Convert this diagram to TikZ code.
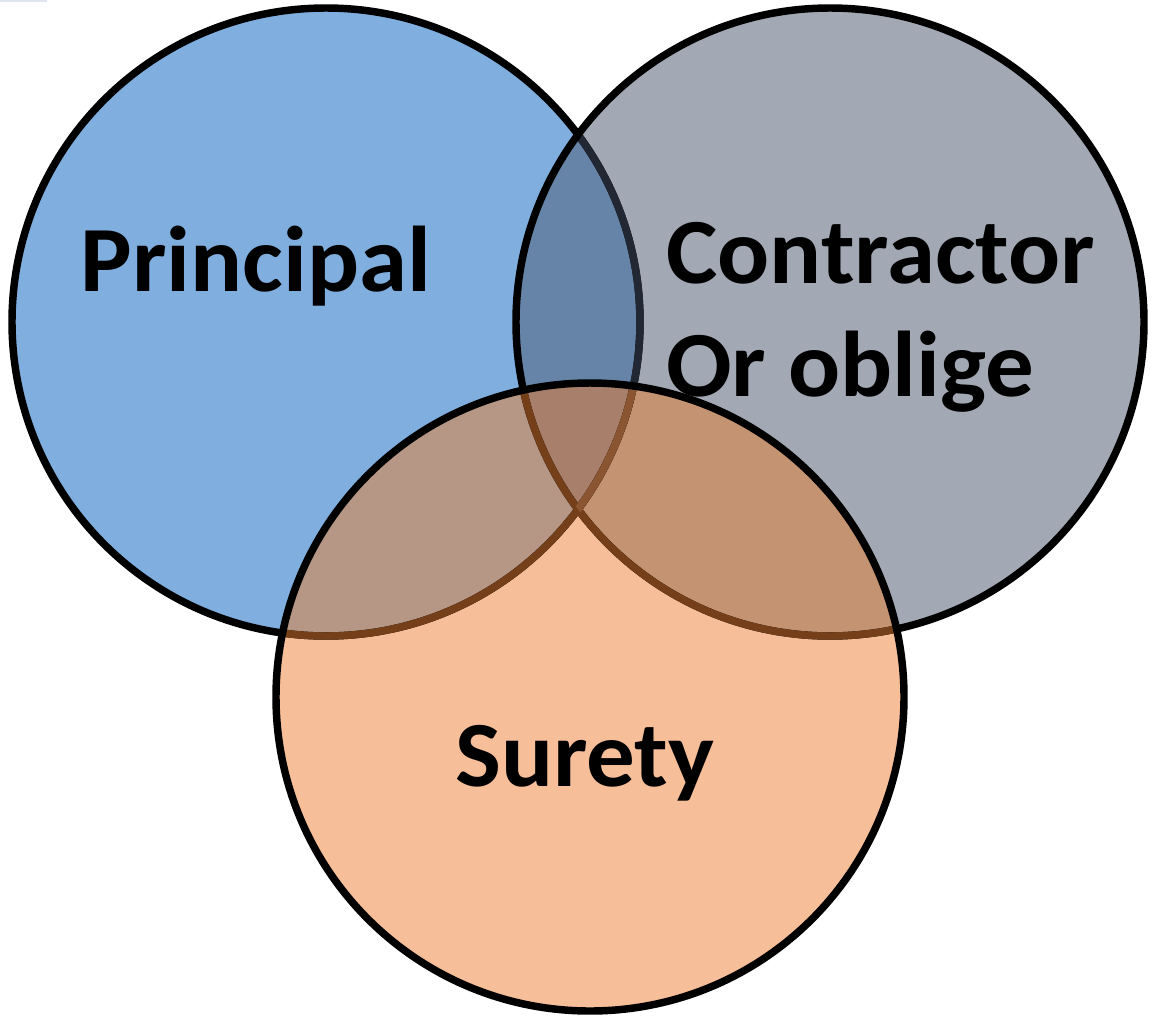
\documentclass[tikz,border=0pt]{standalone}
\usepackage{fontspec}
\setmainfont{Carlito}
\definecolor{cblue}{HTML}{7FAEDF}
\definecolor{cgray}{HTML}{A3A9B4}
\definecolor{cpeach}{HTML}{F6BE99}
\definecolor{cbg}{HTML}{6584A8}
\definecolor{cpb}{HTML}{B69786}
\definecolor{cpg}{HTML}{C49371}
\definecolor{cpbg}{HTML}{A77F6A}
\definecolor{bdark}{HTML}{212733}
\definecolor{bbrown}{HTML}{753F19}
\definecolor{blight}{HTML}{8A5530}
\definecolor{tick}{HTML}{E0E4EE}
\begin{document}
\begin{tikzpicture}[x=0.75pt,y=-0.75pt,
  rim/.style={line width=5.6pt},
  lbl/.style={font=\fontsize{70}{86}\selectfont\bfseries, inner sep=0pt, text=black, xscale=1.04, transform shape}]
\useasboundingbox (0,0) rectangle (1154,1022);
\coordinate (P) at (326,322);
\coordinate (C) at (830,322);
\coordinate (S) at (590,697);
\def\rr{235.5pt}
% thin mark at top left
\fill[tick] (0,0) rectangle (47,2);
% base fills
\fill[cblue] (P) circle[radius=\rr];
\fill[cgray] (C) circle[radius=\rr];
\fill[cpeach] (S) circle[radius=\rr];
% overlaps
\begin{scope}
  \clip (P) circle[radius=\rr];
  \fill[cbg] (C) circle[radius=\rr];
\end{scope}
\begin{scope}
  \clip (S) circle[radius=\rr];
  \fill[cpb] (P) circle[radius=\rr];
  \fill[cpg] (C) circle[radius=\rr];
  \clip (P) circle[radius=\rr];
  \fill[cpbg] (C) circle[radius=\rr];
\end{scope}
% borders
\draw[rim, black] (P) circle[radius=\rr];
\begin{scope}
  \clip (C) circle[radius=\rr];
  \draw[rim, bdark] (P) circle[radius=\rr];
\end{scope}
\draw[rim, black] (C) circle[radius=\rr];
\begin{scope}
  \clip (S) circle[radius=\rr];
  \draw[rim, bbrown] (P) circle[radius=\rr];
  \draw[rim, bbrown] (C) circle[radius=\rr];
  \clip (C) circle[radius=\rr];
  \draw[rim, blight] (P) circle[radius=\rr];
\end{scope}
\draw[rim, black] (S) circle[radius=\rr];
% labels
\node[lbl, anchor=base] (tp) at (256,291) {Principal};
\node[lbl, anchor=base west] (tc1) at (666,283) {Contractor};
\node[lbl, anchor=base west] (tc2) at (666,396) {Or oblige};
\node[lbl, anchor=base] (ts) at (585,786) {Surety};
\end{tikzpicture}
\end{document}
